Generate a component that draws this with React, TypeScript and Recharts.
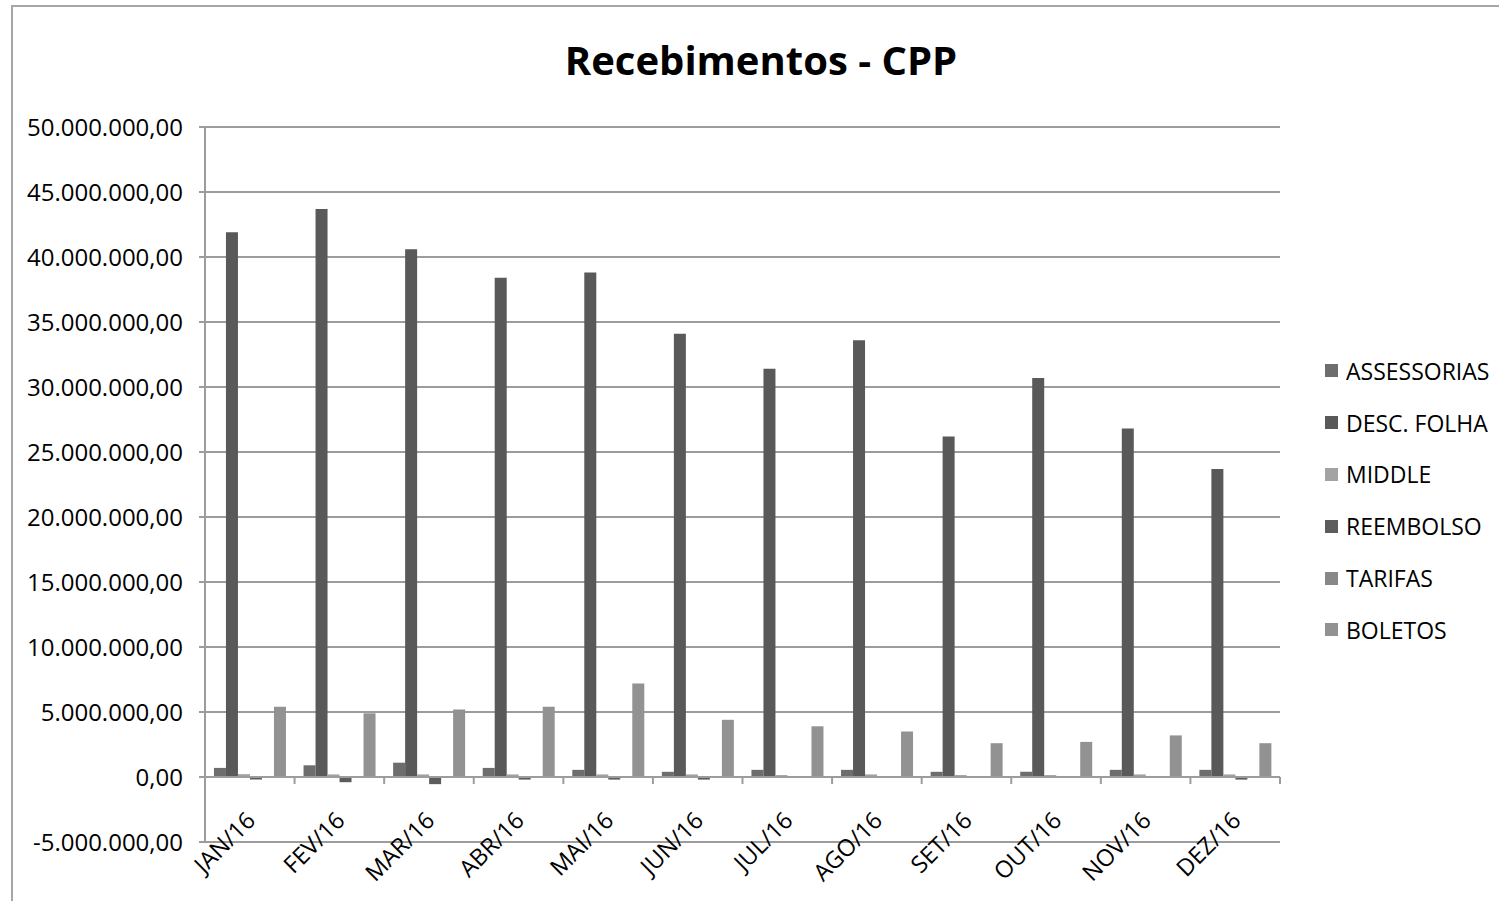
import React from "react";
import { BarChart, Bar, XAxis, YAxis, CartesianGrid, ReferenceLine, Legend } from "recharts";

// Months on the category axis
const months = ["JAN/16", "FEV/16", "MAR/16", "ABR/16", "MAI/16", "JUN/16", "JUL/16", "AGO/16", "SET/16", "OUT/16", "NOV/16", "DEZ/16"];

// Series values (R$)
const assessorias = [700000, 900000, 1100000, 700000, 550000, 400000, 550000, 550000, 400000, 400000, 550000, 550000];
const descFolha = [41900000, 43700000, 40600000, 38400000, 38800000, 34100000, 31400000, 33600000, 26200000, 30700000, 26800000, 23700000];
const middle = [220000, 200000, 200000, 200000, 200000, 200000, 150000, 200000, 150000, 150000, 200000, 200000];
const reembolso = [-200000, -400000, -550000, -200000, -200000, -200000, 30000, 40000, 30000, 30000, 30000, -200000];
const tarifas = [40000, 40000, 30000, 30000, 30000, 30000, 40000, 30000, 40000, 30000, 40000, 30000];
const boletos = [5400000, 4900000, 5200000, 5400000, 7200000, 4400000, 3900000, 3500000, 2600000, 2700000, 3200000, 2600000];

// Y axis ticks
const yTicks = [-5000000, 0, 5000000, 10000000, 15000000, 20000000, 25000000, 30000000, 35000000, 40000000, 45000000, 50000000];

const series = [
  { key: "assessorias", name: "ASSESSORIAS", color: "#6d6d6d", values: assessorias },
  { key: "descFolha", name: "DESC. FOLHA", color: "#595959", values: descFolha },
  { key: "middle", name: "MIDDLE", color: "#a3a3a3", values: middle },
  { key: "reembolso", name: "REEMBOLSO", color: "#5c5c5c", values: reembolso },
  { key: "tarifas", name: "TARIFAS", color: "#888888", values: tarifas },
  { key: "boletos", name: "BOLETOS", color: "#929292", values: boletos },
];

const data = months.map((m, i) => {
  const row: Record<string, string | number> = { month: m };
  series.forEach((s) => (row[s.key] = s.values[i]));
  return row;
});

const FONT = "'Open Sans', 'Noto Sans', sans-serif";
const GRID = "#9c9c9c";

// pt-BR number format: 50.000.000,00
const formatBR = (v: number) => {
  const neg = v < 0;
  const int = Math.abs(Math.round(v)).toString().replace(/\B(?=(\d{3})+(?!\d))/g, ".");
  return `${neg ? "-" : ""}${int},00`;
};

const MonthTick = (props: any) => {
  const { x, y, payload } = props;
  const ax = x + 7;
  const ay = y - 20;
  return (
    <text
      x={ax}
      y={ay}
      transform={`rotate(-45, ${ax}, ${ay})`}
      textAnchor="end"
      fontFamily={FONT}
      fontSize={23.5}
      fill="#000"
    >
      {payload.value}
    </text>
  );
};

// zero line drawn as the category axis, with ticks at the category boundaries
const ZeroAxis = (props: any) => {
  const { x1, y1, x2 } = props;
  const step = (x2 - x1) / months.length;
  return (
    <g>
      <line x1={x1} y1={y1} x2={x2} y2={y1} stroke={GRID} strokeWidth={2} />
      {months.map((_, i) => (
        <line key={i} x1={x1 + step * (i + 1)} y1={y1} x2={x1 + step * (i + 1)} y2={y1 + 7} stroke={GRID} strokeWidth={2} />
      ))}
    </g>
  );
};

const SideLegend = () => (
  <div style={{ fontFamily: FONT, fontSize: 23, color: "#000" }}>
    {series.map((s) => (
      <div key={s.key} style={{ display: "flex", alignItems: "center", height: 51.8 }}>
        <span style={{ width: 13, height: 13, background: s.color, marginRight: 8, display: "inline-block" }} />
        <span>{s.name}</span>
      </div>
    ))}
  </div>
);

export default function App() {
  return (
    <div style={{ position: "absolute", left: 0, top: 0, width: 1499, height: 901, overflow: "hidden", background: "#fff" }}>
      {/* chart frame */}
      <div
        style={{
          position: "absolute",
          left: 11,
          top: 5,
          width: 1600,
          height: 1000,
          borderLeft: "2px solid #a6a6a6",
          borderTop: "2px solid #a6a6a6",
        }}
      />
      <div
        style={{
          position: "absolute",
          left: 0,
          width: 1522,
          top: 33,
          textAlign: "center",
          fontFamily: FONT,
          fontWeight: 700,
          fontSize: 40,
          color: "#000",
          lineHeight: "54px",
        }}
      >
        Recebimentos - CPP
      </div>
      <div style={{ position: "absolute", left: 0, top: 0 }}>
        <BarChart
          width={1499}
          height={901}
          data={data}
          margin={{ top: 127, right: 219, bottom: 0, left: 0 }}
          barCategoryGap="10%"
          barGap={0}
        >
          <CartesianGrid vertical={false} stroke={GRID} strokeWidth={2} />
          <XAxis
            dataKey="month"
            height={59}
            axisLine={false}
            tickLine={false}
            tickSize={0}
            tickMargin={0}
            interval={0}
            tick={<MonthTick />}
          />
          <YAxis
            width={205}
            domain={[-5000000, 50000000]}
            ticks={yTicks}
            interval={0}
            tickFormatter={formatBR}
            axisLine={{ stroke: GRID, strokeWidth: 2 }}
            tickLine={{ stroke: GRID, strokeWidth: 2 }}
            tickSize={6}
            tickMargin={16}
            tick={{ fontFamily: FONT, fontSize: 24, fill: "#000" }}
          />
          <Legend
            layout="vertical"
            align="center"
            verticalAlign="middle"
            content={<SideLegend />}
            wrapperStyle={{ left: 1325, top: 345, width: 174 }}
          />
          {series.map((s) => (
            <Bar key={s.key} dataKey={s.key} name={s.name} fill={s.color} isAnimationActive={false} />
          ))}
          <ReferenceLine y={0} shape={<ZeroAxis />} />
        </BarChart>
      </div>
    </div>
  );
}
